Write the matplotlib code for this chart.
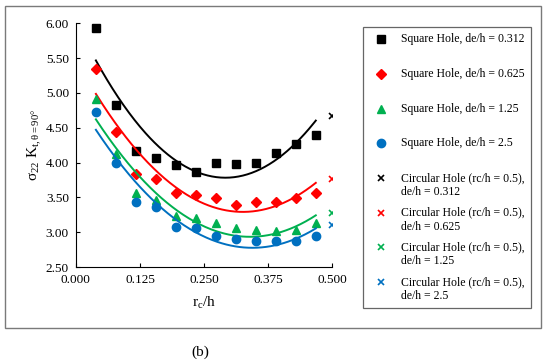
import numpy as np
import matplotlib
matplotlib.use("Agg")
import matplotlib.pyplot as plt
from matplotlib.lines import Line2D
from matplotlib.patches import Rectangle
from matplotlib.legend_handler import HandlerLine2D

plt.rcParams['font.family'] = ['Liberation Serif', 'DejaVu Serif']
plt.rcParams['mathtext.fontset'] = 'custom'
plt.rcParams['mathtext.rm'] = 'Liberation Serif'
plt.rcParams['mathtext.it'] = 'Liberation Serif:italic'

# r_c/h positions of the square hole results
rc_h = [0.039, 0.078, 0.117, 0.156, 0.195, 0.234, 0.273, 0.312, 0.351, 0.390, 0.429, 0.468]

sq_0312 = [5.93, 4.83, 4.17, 4.06, 3.97, 3.87, 3.99, 3.98, 4.00, 4.14, 4.26, 4.39]
sq_0625 = [5.34, 4.44, 3.84, 3.77, 3.56, 3.53, 3.49, 3.39, 3.43, 3.44, 3.49, 3.56]
sq_125 = [4.91, 4.13, 3.56, 3.47, 3.23, 3.21, 3.13, 3.06, 3.04, 3.02, 3.04, 3.14]
sq_25 = [4.73, 4.00, 3.44, 3.36, 3.07, 3.06, 2.95, 2.90, 2.88, 2.87, 2.88, 2.94]

# circular hole, rc/h = 0.5
circ_x = 0.5
circ_vals = [4.67, 3.76, 3.27, 3.10]

de_h = ['0.312', '0.625', '1.25', '2.5']
colors = ['black', '#FF0000', '#00B050', '#0070C0']
markers = ['s', 'D', '^', 'o']
msizes = [6, 5, 6, 6]
square_sets = [sq_0312, sq_0625, sq_125, sq_25]


class TopHandler(HandlerLine2D):
    # put the legend marker next to the first text line
    def create_artists(self, legend, orig_handle, xdescent, ydescent,
                       width, height, fontsize, trans):
        return super().create_artists(legend, orig_handle, xdescent,
                                      ydescent - 1.25 * fontsize, width,
                                      height, fontsize, trans)


fig = plt.figure(figsize=(5.5, 3.62), dpi=100)
ax = fig.add_axes([0.138, 0.262, 0.466, 0.674])

handles = []
labels = []
for vals, c, m, ms, d in zip(square_sets, colors, markers, msizes, de_h):
    ax.plot(rc_h, vals, linestyle='none', marker=m, color=c, markersize=ms)
    # second order trend line
    coef = np.polyfit(rc_h, vals, 2)
    xs = np.linspace(rc_h[0], rc_h[-1], 200)
    ax.plot(xs, np.polyval(coef, xs), color=c, linewidth=1.4)
    handles.append(Line2D([], [], linestyle='none', marker=m, color=c, markersize=ms))
    labels.append('Square Hole, de/h = ' + d + '\n ')

for v, c, d in zip(circ_vals, colors, de_h):
    ax.plot([circ_x], [v], linestyle='none', marker='x', color=c,
            markersize=5, markeredgewidth=1.2)
    handles.append(Line2D([], [], linestyle='none', marker='x', color=c,
                          markersize=5, markeredgewidth=1.2))
    labels.append('Circular Hole (rc/h = 0.5),\nde/h = ' + d)

ax.set_xlim(0, 0.5)
ax.set_ylim(2.5, 6.0)
ax.set_xticks([0, 0.125, 0.25, 0.375, 0.5])
ax.set_xticklabels(['0.000', '0.125', '0.250', '0.375', '0.500'])
ax.set_yticks(np.arange(2.5, 6.01, 0.5))
ax.set_yticklabels(['%.2f' % t for t in np.arange(2.5, 6.01, 0.5)])
ax.tick_params(direction='in', length=3, labelsize=9.5, pad=5)
ax.spines['top'].set_visible(False)
ax.spines['right'].set_visible(False)
ax.set_xlabel('r$_\\mathrm{c}$/h', fontsize=11, labelpad=6)
ax.set_ylabel('σ$_\\mathrm{22}$ K$_\\mathrm{t,θ = 90°}$', fontsize=11, labelpad=1)

leg = fig.legend(handles, labels, loc='upper left',
                 bbox_to_anchor=(363 / 550, 1 - 27 / 362), borderaxespad=0,
                 frameon=True, fancybox=False, fontsize=8.5,
                 labelspacing=0.75, handlelength=2.0, handletextpad=0.68,
                 borderpad=0.55, handler_map={Line2D: TopHandler()})
leg.get_frame().set_edgecolor('#404040')
leg.get_frame().set_linewidth(0.9)
for t in leg.get_texts():
    t.set_linespacing(1.2)

# outer frame around the figure panel
fig.add_artist(Rectangle((5 / 550, 1 - 328 / 362), 536 / 550, 322 / 362,
                         transform=fig.transFigure, fill=False,
                         edgecolor='#7a7a7a', linewidth=1.0))
fig.text(200 / 550, 1 - 352 / 362, '(b)', fontsize=11, ha='center', va='center')

fig.savefig('out.png', dpi=100)
